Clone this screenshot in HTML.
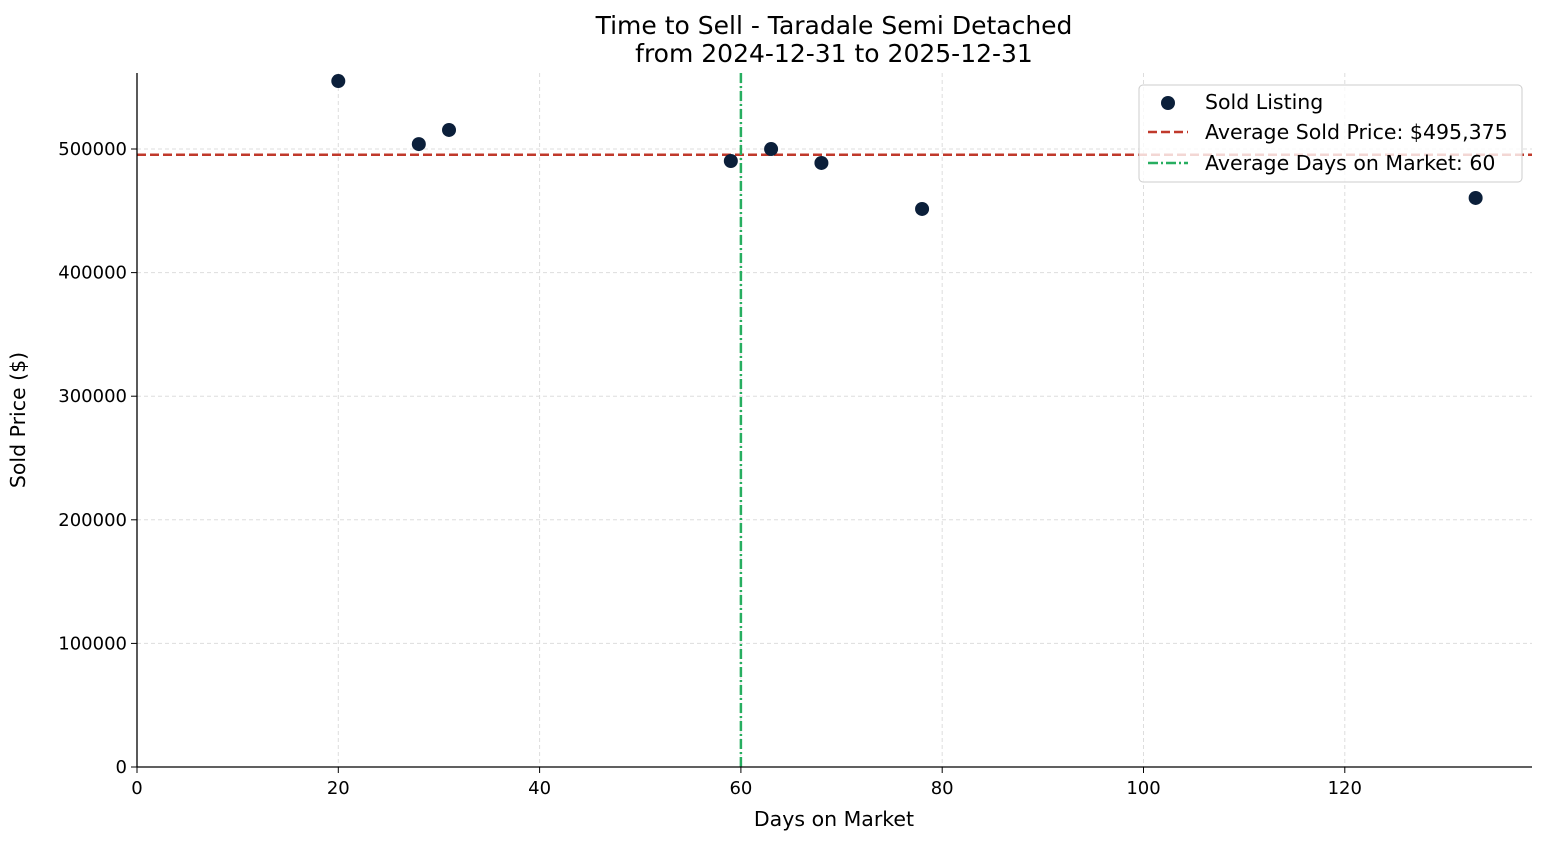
<!DOCTYPE html>
<html><head><meta charset="utf-8">
<style>
body{margin:0;background:#fff;}
svg text{font-family:"DejaVu Sans","Liberation Sans",sans-serif;fill:#000;}
</style></head>
<body>
<svg id="chart" width="1547" height="845" xmlns="http://www.w3.org/2000/svg">
<text x="834" y="34" font-size="25" text-anchor="middle">Time to Sell - Taradale Semi Detached</text>
<text x="834" y="62" font-size="25" text-anchor="middle">from 2024-12-31 to 2025-12-31</text>
<g id="grid"></g>
<g id="marks"></g>
<g id="axes"></g>
<text x="834" y="826" font-size="20.5" text-anchor="middle">Days on Market</text>
<text x="25" y="420" font-size="20.5" text-anchor="middle" transform="rotate(-90 25 420)">Sold Price ($)</text>
<g>
<rect x="1139" y="85" width="383" height="97" rx="4" fill="#fff" fill-opacity="0.8" stroke="#ccc"/>
<circle cx="1168" cy="103" r="7" fill="#0b1f3a"/>
<text x="1205" y="109" font-size="20.5">Sold Listing</text>
<line x1="1148" y1="132" x2="1188" y2="132" stroke="#c0392b" stroke-width="2.5" stroke-dasharray="9,4"/>
<text x="1205" y="139" font-size="20.5">Average Sold Price: $495,375</text>
<line x1="1148" y1="163" x2="1188" y2="163" stroke="#27ae60" stroke-width="2.5" stroke-dasharray="10,3,2,3"/>
<text x="1205" y="170" font-size="20.5">Average Days on Market: 60</text>
</g>
</svg>
<script>
const days=[20,28,31,59,63,68,78,133];
const prices=[555000,504000,515400,490300,500000,488700,451500,460400];
const xTicks=[0,20,40,60,80,100,120];
const yTicks=[0,100000,200000,300000,400000,500000];
const avgPrice=495375;
const avgDays=60;
const L=137,R=1532,T=73,B=767,xMax=138.6,yMax=561500;
const X=v=>L+(v/xMax)*(R-L);
const Y=v=>B-(v/yMax)*(B-T);
const NS="http://www.w3.org/2000/svg";
function mk(tag,attrs,parent){const e=document.createElementNS(NS,tag);for(const k in attrs)e.setAttribute(k,attrs[k]);document.getElementById(parent).appendChild(e);return e;}
xTicks.forEach(t=>{
 const g=mk('line',{x1:X(t),x2:X(t),y1:T,y2:B,stroke:'#ddd','stroke-dasharray':'4,3','stroke-width':1},'grid');
 
 
 mk('line',{x1:X(t),x2:X(t),y1:B,y2:B+6,stroke:'#000'},'axes');
 const tx=mk('text',{x:X(t),y:B+27,'font-size':18,'text-anchor':'middle'},'axes');tx.textContent=t;
 
 
});
yTicks.forEach(t=>{
 const g=mk('line',{x1:L,x2:R,y1:Y(t),y2:Y(t),stroke:'#ddd','stroke-dasharray':'4,3','stroke-width':1},'grid');
 
 
 mk('line',{x1:L-6,x2:L,y1:Y(t),y2:Y(t),stroke:'#000'},'axes');
 const tx=mk('text',{x:L-10,y:Y(t)+6,'font-size':18,'text-anchor':'end'},'axes');tx.textContent=t;
 
 
});
const ax=mk('line',{x1:L,x2:R,y1:B,y2:B,stroke:'#000','stroke-width':1.3},'axes');


const ay=mk('line',{x1:L,x2:L,y1:T,y2:B,stroke:'#000','stroke-width':1.3},'axes');


const hl=mk('line',{x1:L,x2:R,y1:Y(avgPrice),y2:Y(avgPrice),stroke:'#c0392b','stroke-width':2.5,'stroke-dasharray':'9,4'},'marks');


const vl=mk('line',{x1:X(avgDays),x2:X(avgDays),y1:T,y2:B,stroke:'#27ae60','stroke-width':2.5,'stroke-dasharray':'10,3,2,3'},'marks');


days.forEach((d,i)=>{
 const c=mk('circle',{cx:X(d),cy:Y(prices[i]),r:7,fill:'#0b1f3a'},'marks');
 
 
});
</script>
</body></html>
